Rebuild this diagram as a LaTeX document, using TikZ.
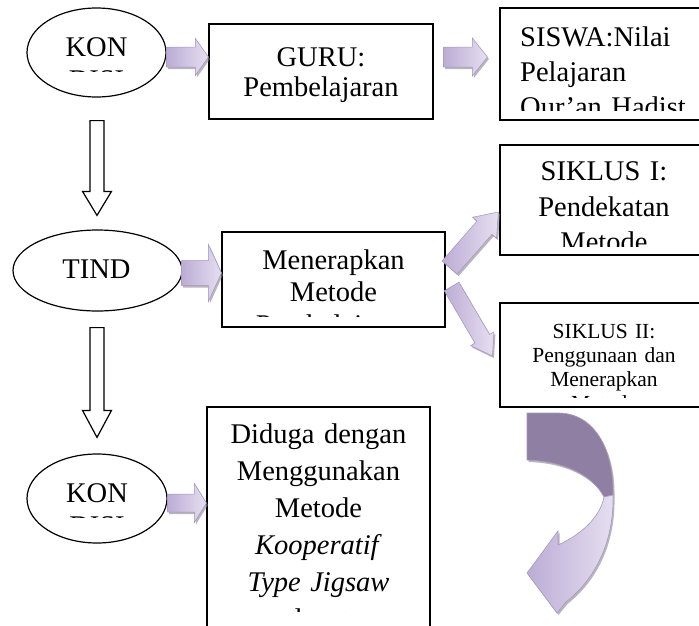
\documentclass[tikz,border=0pt]{standalone}
\usepackage{fontspec}
\setmainfont{Liberation Serif}
\usetikzlibrary{calc,shapes.geometric,shadows}
\definecolor{pleft}{HTML}{BCACD5}
\definecolor{pright}{HTML}{E6DFF0}
\definecolor{pedge}{HTML}{A493C0}
\definecolor{pshadow}{HTML}{8A8494}
\definecolor{cdark}{HTML}{8F7FA2}
\definecolor{cedge}{HTML}{A898BE}
\newcommand{\blockarrow}[6]{%
  \coordinate (ba-h) at ($(#3)!#6!(#2)$);
  \path[#1] ($(#2)!#4!90:(#3)$) -- ($(ba-h)!#4!-90:(#2)$) -- ($(ba-h)!#5!-90:(#2)$) -- (#3)
    -- ($(ba-h)!#5!90:(#2)$) -- ($(ba-h)!#4!90:(#2)$) -- ($(#2)!#4!-90:(#3)$) -- cycle;
}
\tikzset{
  box/.style={draw, line width=1.2pt, rectangle, inner sep=0pt},
  ell/.style={draw, line width=1.2pt, ellipse, inner sep=0pt},
  txt/.style={inner sep=0pt, anchor=base, align=center},
  purple arrow/.style={draw=pedge, line width=0.5pt, left color=pleft, right color=pright,
    drop shadow={shadow xshift=1.5pt, shadow yshift=-2pt, fill=pshadow, opacity=0.6}},
  hollow arrow/.style={draw=black, fill=white, line width=1.2pt, line join=miter},
}
\begin{document}
\begin{tikzpicture}[x=1pt,y=-1pt]
\useasboundingbox (0,0) rectangle (699,625);
\clip (0,0) rectangle (699,625);

% shapes
\node[ell, minimum width=139pt, minimum height=89pt] (k1) at (96.5,52.5) {};
\node[ell, minimum width=169pt, minimum height=81pt] (k2) at (97.5,270.5) {};
\node[ell, minimum width=140pt, minimum height=89pt] (k3) at (97,498.5) {};
\node[box, minimum width=224pt, minimum height=95pt] (guru) at (321,71.5) {};
\node[box, minimum width=208pt, minimum height=112pt] (siswa) at (604,64) {};
\node[box, minimum width=223pt, minimum height=95pt] (mener) at (333.5,279.5) {};
\node[box, minimum width=208pt, minimum height=110pt] (sik1) at (604,200) {};
\node[box, minimum width=208pt, minimum height=104pt] (sik2) at (604,355) {};
\node[box, minimum width=223pt, minimum height=300pt] (dug) at (318.5,557) {};

% texts
\begin{scope}
  \clip (27,8) rectangle (167,71);
  \node[txt, text width=130pt, font=\fontsize{28.5}{33}\selectfont] (k1t) at (96.5,56) {KON\\DISI};
\end{scope}
\node[txt, text width=215pt, font=\fontsize{28.5}{30}\selectfont] (gurut) at (321,66.7) {GURU:\\Pembelajaran};
\begin{scope}
  \clip (500,8) rectangle (699,110);
  \node[txt, anchor=base west, align=left, text width=175pt, font=\fontsize{28.5}{35}\selectfont] (siswat) at (520,46.7) {SISWA:Nilai\\Pelajaran\\Qur’an Hadist};
\end{scope}
\node[txt, font=\fontsize{28.5}{33}\selectfont] (k2t) at (96.5,278) {TIND};
\begin{scope}
  \clip (222,232) rectangle (445,316.5);
  \node[txt, text width=215pt, font=\fontsize{28.5}{32.5}\selectfont] (menert) at (333.5,269) {Menerapkan\\Metode\\Pembelajaran};
\end{scope}
\begin{scope}
  \clip (500,145) rectangle (699,246);
  \node[txt, text width=200pt, font=\fontsize{28.5}{35.5}\selectfont] (sik1t) at (604,180.7) {SIKLUS I:\\Pendekatan\\Metode};
\end{scope}
\begin{scope}
  \clip (500,303) rectangle (699,397.5);
  \node[txt, text width=200pt, font=\fontsize{21.5}{24}\selectfont] (sik2t) at (604,338.3) {SIKLUS II:\\Penggunaan dan\\Menerapkan\\Metode};
\end{scope}
\begin{scope}
  \clip (27,454) rectangle (167,517);
  \node[txt, text width=130pt, font=\fontsize{28.5}{33}\selectfont] (k3t) at (97,502) {KON\\DISI};
\end{scope}
\begin{scope}
  \clip (207,407) rectangle (430,611.5);
  \node[txt, text width=215pt, font=\fontsize{28.5}{37}\selectfont] (dugt) at (318.5,443) {Diduga dengan\\Menggunakan\\Metode\\\textit{Kooperatif}\\\textit{Type Jigsaw}\\dapat};
\end{scope}

% purple block arrows
\coordinate (a1s) at ($(k1.east)+(0,4.5)$);
\coordinate (a1t) at (guru.west |- a1s);
\blockarrow{purple arrow}{a1s}{a1t}{10pt}{18.5pt}{13pt}
\coordinate (a2s) at ($(guru.east)+(10,-14.5)$);
\coordinate (a2t) at ($(siswa.west |- a2s)+(-12,0)$);
\blockarrow{purple arrow}{a2s}{a2t}{10pt}{19pt}{15pt}
\coordinate (a3s) at ($(k2.east)+(-1,2.5)$);
\coordinate (a3t) at (mener.west |- a3s);
\blockarrow{purple arrow}{a3s}{a3t}{12.5pt}{28.5pt}{13pt}
\coordinate (a4s) at ($(k3.east)+(0,4.5)$);
\coordinate (a4t) at (dug.west |- a4s);
\blockarrow{purple arrow}{a4s}{a4t}{9pt}{19.5pt}{12pt}
\coordinate (a5s) at ($(mener.east)+(4,-12)$);
\coordinate (a5t) at ($(sik1.west)+(-1,12)$);
\blockarrow{purple arrow}{a5s}{a5t}{10pt}{16pt}{21pt}
\coordinate (a6s) at ($(mener.east)+(6,7)$);
\coordinate (a6t) at ($(sik2.west)+(-7,1)$);
\blockarrow{purple arrow}{a6s}{a6t}{8.5pt}{13.5pt}{20pt}

% hollow down arrows
\coordinate (d1s) at ($(k1.south)+(0.5,23)$);
\coordinate (d1t) at ($(k2.north)+(-0.5,-14)$);
\blockarrow{hollow arrow}{d1s}{d1t}{7pt}{14.5pt}{24pt}
\coordinate (d2s) at ($(k2.south)+(-0.5,16)$);
\coordinate (d2t) at ($(k3.north)+(0,-16)$);
\blockarrow{hollow arrow}{d2s}{d2t}{7pt}{14.5pt}{27pt}

% curved arrow
\path[draw=cedge, line width=0.6pt, fill=cdark,
  drop shadow={shadow xshift=1.5pt, shadow yshift=-2pt, fill=pshadow, opacity=0.6}]
  (527,413) -- (558,413) .. controls (596,413) and (614,452) .. (613,495)
  -- (604,497) .. controls (592,474) and (562,461) .. (527,460) -- cycle;
\path[draw=cedge, line width=0.6pt, left color=pleft, right color=pright,
  drop shadow={shadow xshift=1.5pt, shadow yshift=-2pt, fill=pshadow, opacity=0.6}]
  (613,495) .. controls (614,535) and (600,575) .. (566,602) -- (557,613) -- (527,573)
  -- (558,531) -- (558,545) .. controls (580,535) and (600,518) .. (604,497) -- cycle;
\end{tikzpicture}
\end{document}
